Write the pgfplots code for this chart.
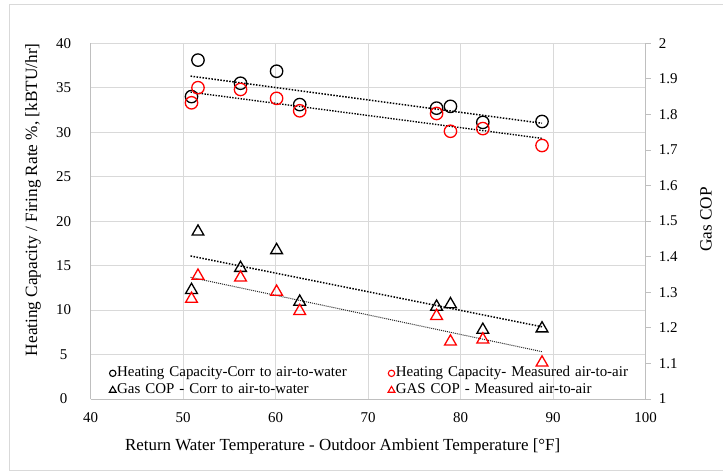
\documentclass[border=0pt]{standalone}
\usepackage{pgfplots}
\pgfplotsset{compat=1.18}
\usepackage{pgfplotstable}
\usepackage{fontspec}
\setmainfont{Liberation Serif}
\definecolor{gridc}{HTML}{D9D9D9}
\definecolor{axc}{HTML}{BFBFBF}
\definecolor{xred}{HTML}{FF0000}

\pgfplotstableread{
x    corr   meas
50.9 34.0   33.3
51.6 38.1   35.0
56.2 35.5   34.8
60.1 36.85  33.8
62.6 33.1   32.4
77.4 32.7   32.1
78.9 32.9   30.1
82.4 31.1   30.4
88.8 31.2   28.5
}\hcdata

\pgfplotstableread{
x    corr   meas
50.9 1.311  1.286
51.6 1.475  1.351
56.2 1.373  1.346
60.1 1.423  1.306
62.6 1.278  1.252
77.4 1.264  1.238
78.9 1.271  1.166
82.4 1.199  1.172
88.8 1.203  1.107
}\copdata

\begin{document}
\begin{tikzpicture}
\path[use as bounding box] (0,0) rectangle (723bp,-471bp);
\fill[white] (0,0) rectangle (723bp,-471bp);
\draw[gridc, line width=1bp] (724bp,-4.5bp) -- (9.5bp,-4.5bp) -- (9.5bp,-470bp) -- (724bp,-470bp);

\begin{axis}[
  at={(90.7bp,-399bp)}, anchor=south west,
  scale only axis, width=554.9bp, height=355.8bp,
  xmin=40, xmax=100, ymin=0, ymax=40,
  xtick={40,50,...,100}, ytick={0,5,...,40},
  grid=major, major grid style={gridc, line width=0.8bp},
  axis x line*=bottom, axis y line*=left,
  axis line style={axc, line width=0.8bp},
  major tick length=0pt,
  tick label style={font=\fontsize{15}{15}\selectfont},
  /pgf/number format/assume math mode=true,
  xticklabel style={anchor=center, yshift=-19bp},
  yticklabel style={anchor=center, xshift=-27bp},
  xlabel={Return Water Temperature - Outdoor Ambient Temperature [°F]},
  ylabel={Heating Capacity / Firing Rate \%, [kBTU/hr]},
  every axis x label/.style={at={(axis description cs:0.454,-0.132)}, anchor=center, font=\fontsize{17}{17}\selectfont},
  every axis y label/.style={at={(axis description cs:-0.104,0.56)}, rotate=90, anchor=center, font=\fontsize{17.3}{17.3}\selectfont},
  legend columns=2,
  legend style={at={(axis description cs:0.0333,0)}, anchor=south west,
    draw=none, fill=none, inner sep=0pt, row sep=0pt,
    font=\fontsize{15}{15}\selectfont,
    nodes={text height=11bp, text depth=4bp, inner sep=1bp, text width=270bp, align=left}},
  legend cell align=left,
  legend image code/.code={\draw[#1] plot coordinates {(3.5bp,0bp)};},
]
\addplot[only marks, mark=o, mark size=6.2bp, black, line width=1.3bp,
  legend image post style={mark size=3.2bp, line width=1.1bp}]
  table[x=x, y=corr] {\hcdata};
\addlegendentry{Heating Capacity-Corr to air-to-water}
\addplot[only marks, mark=o, mark size=6.2bp, xred, line width=1.3bp,
  legend image post style={mark size=3.2bp, line width=1.1bp}]
  table[x=x, y=meas] {\hcdata};
\addlegendentry{Heating Capacity- Measured air-to-air}
\addlegendimage{only marks, mark=triangle, black, line width=1.1bp, mark size=3.9bp}
\addlegendentry{Gas COP - Corr to air-to-water}
\addlegendimage{only marks, mark=triangle, xred, line width=1.1bp, mark size=3.9bp}
\addlegendentry{GAS COP - Measured air-to-air}
\addplot[forget plot, black, line width=1.5bp, dash pattern=on 1.5bp off 1.5bp]
  coordinates {(50.8,36.3) (88.8,31.0)};
\addplot[forget plot, black, line width=1.4bp, dash pattern=on 1.4bp off 1.4bp]
  coordinates {(50.8,34.5) (88.8,29.3)};
\end{axis}

\begin{axis}[
  at={(90.7bp,-399bp)}, anchor=south west,
  scale only axis, width=554.9bp, height=355.8bp,
  xmin=40, xmax=100, ymin=1, ymax=2,
  axis x line=none, axis y line*=right,
  axis line style={axc, line width=0.8bp},
  ytick={1,1.1,1.2,1.3,1.4,1.5,1.6,1.7,1.8,1.9,2},
  yticklabels={1,1.1,1.2,1.3,1.4,1.5,1.6,1.7,1.8,1.9,2},
  tick align=outside, major tick length=5bp,
  tick style={axc, line width=0.8bp},
  tick label style={font=\fontsize{15}{15}\selectfont},
  yticklabel style={anchor=west, inner sep=0pt, xshift=8bp},
  ylabel={Gas COP},
  every axis y label/.style={at={(axis description cs:1.1088,0.505)}, rotate=90, anchor=center, font=\fontsize{17.3}{17.3}\selectfont},
]
\addplot[only marks, mark=triangle, mark size=6.8bp, black, line width=1.3bp,
  mark options={yshift=-1.7bp}]
  table[x=x, y=corr] {\copdata};
\addplot[only marks, mark=triangle, mark size=6.8bp, xred, line width=1.3bp,
  mark options={yshift=-1.7bp}]
  table[x=x, y=meas] {\copdata};
\addplot[black, line width=1.5bp, dash pattern=on 1.5bp off 1.5bp]
  coordinates {(50.8,1.402) (88.8,1.203)};
\addplot[black!85, line width=1.0bp, dash pattern=on 1bp off 1bp]
  coordinates {(50.8,1.342) (88.8,1.133)};
\end{axis}
\end{tikzpicture}
\end{document}
